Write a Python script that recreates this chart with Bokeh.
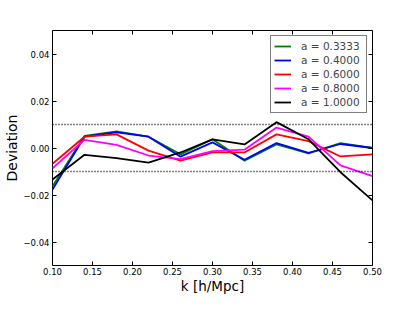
from bokeh.plotting import figure
from bokeh.models import (Range1d, LinearAxis, FixedTicker, CustomJSTickFormatter,
                          Span, Legend, LegendItem)
from bokeh.embed import file_html
from bokeh.resources import INLINE

k = [0.10, 0.14, 0.18, 0.22, 0.26, 0.30, 0.34, 0.38, 0.42, 0.46, 0.50]
dev_a03333 = [-0.0163, 0.0051, 0.0071, 0.0048, -0.0027, 0.0037, -0.0054, 0.0015, -0.0023, 0.0021, 0.0000]
dev_a04000 = [-0.0177, 0.0048, 0.0067, 0.0048, -0.0037, 0.0024, -0.0050, 0.0021, -0.0021, 0.0017, 0.0000]
dev_a06000 = [-0.0067, 0.0048, 0.0058, -0.0011, -0.0054, -0.0019, -0.0019, 0.0058, 0.0029, -0.0036, -0.0027]
dev_a08000 = [-0.0086, 0.0035, 0.0013, -0.0032, -0.0047, -0.0013, -0.0007, 0.0087, 0.0048, -0.0074, -0.0120]
dev_a10000 = [-0.0134, -0.0029, -0.0043, -0.0062, -0.0019, 0.0037, 0.0015, 0.0110, 0.0037, -0.0103, -0.0223]
series_labels = ["a = 0.3333", "a = 0.4000", "a = 0.6000", "a = 0.8000", "a = 1.0000"]
series_colors = ["#008000", "#0000ff", "#ff0000", "#ff00ff", "#000000"]
thresholds = [0.01, -0.01]
x_ticks = [0.10, 0.15, 0.20, 0.25, 0.30, 0.35, 0.40, 0.45, 0.50]
y_ticks = [-0.04, -0.02, 0.00, 0.02, 0.04]

FONT = "DejaVu Sans"

p = figure(width=399, height=296, output_backend="svg", toolbar_location=None,
           x_range=Range1d(0.1, 0.5), y_range=Range1d(-0.05, 0.05),
           min_border_left=52, min_border_right=27, min_border_top=30, min_border_bottom=29,
           x_axis_label="k [h/Mpc]", y_axis_label="Deviation")
p.background_fill_color = "white"
p.border_fill_color = "white"
p.outline_line_color = "black"
p.outline_line_width = 1
p.xgrid.visible = False
p.ygrid.visible = False

fmt = CustomJSTickFormatter(code="""
const s = Math.abs(tick).toFixed(2);
return (tick < -1e-9 ? '\\u2212' : '') + s;
""")
blank = CustomJSTickFormatter(code="return '';")

for ax, ticks in ((p.xaxis[0], x_ticks), (p.yaxis[0], y_ticks)):
    ax.ticker = FixedTicker(ticks=ticks)
    ax.formatter = fmt
    ax.major_tick_in = 4
    ax.major_tick_out = 0
    ax.minor_tick_line_color = None
    ax.axis_line_color = None
    ax.major_label_text_font = FONT
    ax.major_label_text_font_size = "8.5px"
    ax.major_label_text_color = "black"
    ax.major_label_standoff = 3
    ax.axis_label_text_font = FONT
    ax.axis_label_text_font_size = "14px"
    ax.axis_label_text_font_style = "normal"
    ax.axis_label_text_color = "black"
    ax.axis_label_standoff = 0

p.xaxis[0].axis_label_text_font_size = "13.5px"
p.xaxis[0].major_label_standoff = 2

for side, ticks in (("above", x_ticks), ("right", y_ticks)):
    ax = LinearAxis(ticker=FixedTicker(ticks=ticks), formatter=blank,
                    major_tick_in=4, major_tick_out=0,
                    minor_tick_line_color=None, axis_line_color=None,
                    major_label_standoff=0)
    p.add_layout(ax, side)

for t in thresholds:
    p.add_layout(Span(location=t, dimension="width", line_color="black",
                      line_dash="1 2", line_width=1.3))

items = []
for ys, lab, col in zip([dev_a03333, dev_a04000, dev_a06000, dev_a08000, dev_a10000],
                        series_labels, series_colors):
    r = p.line(k, ys, line_color=col, line_width=1.8)
    items.append(LegendItem(label=lab, renderers=[r]))

legend = Legend(items=items, location="top_right", margin=5, padding=3,
                spacing=0, label_height=14, glyph_height=14, glyph_width=17,
                label_standoff=10, label_width=62,
                label_text_font=FONT, label_text_font_size="10.5px",
                border_line_color="black", border_line_width=1,
                background_fill_color="white", background_fill_alpha=1)
p.add_layout(legend, "center")

open("out.html", "w").write(file_html(p, INLINE))
